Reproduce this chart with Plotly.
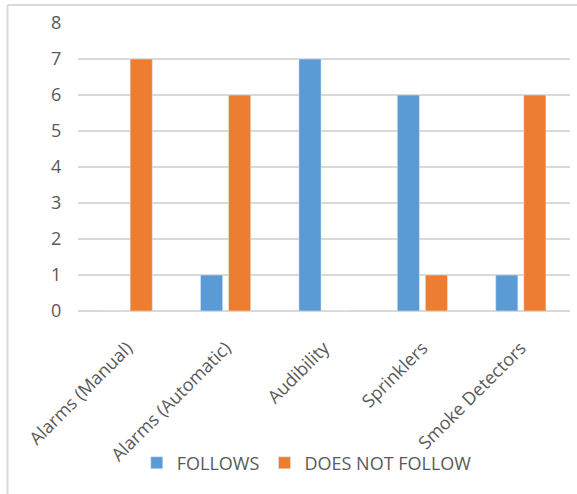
import plotly.graph_objects as go

categories = ["Alarms (Manual)", "Alarms (Automatic)", "Audibility", "Sprinklers", "Smoke Detectors"]
follows = [0, 1, 7, 6, 1]
does_not_follow = [7, 6, 0, 1, 6]
y_ticks = [0, 1, 2, 3, 4, 5, 6, 7, 8]

font_family = "Open Sans, Liberation Sans, sans-serif"
text_grey = "#595959"
grid_grey = "#d9d9d9"

fig = go.Figure()
fig.add_trace(go.Bar(name="FOLLOWS", x=categories, y=follows, marker_color="#5B9BD5"))
fig.add_trace(go.Bar(name="DOES NOT FOLLOW", x=categories, y=does_not_follow, marker_color="#ED7D31"))

fig.update_layout(
    width=577,
    height=494,
    margin=dict(l=78, r=7, t=23, b=183),
    paper_bgcolor="white",
    plot_bgcolor="white",
    barmode="group",
    bargap=0.43,
    bargroupgap=0.21,
    font=dict(family=font_family, size=18, color=text_grey),
    showlegend=True,
    legend=dict(
        orientation="h",
        x=0.465,
        y=-0.528,
        xanchor="center",
        yanchor="middle",
        bgcolor="rgba(0,0,0,0)",
        font=dict(size=18, color=text_grey),
        itemwidth=30,
    ),
    xaxis=dict(
        tickangle=-45,
        showgrid=False,
        showline=False,
        ticks="",
        ticklabelstandoff=22,
        tickfont=dict(size=18, color=text_grey),
    ),
    yaxis=dict(
        range=[0, 8],
        tickvals=y_ticks,
        showgrid=True,
        gridcolor=grid_grey,
        gridwidth=1.5,
        zeroline=True,
        zerolinecolor=grid_grey,
        zerolinewidth=1.5,
        showline=False,
        ticks="outside",
        ticklen=12,
        tickcolor="rgba(0,0,0,0)",
        tickfont=dict(size=18, color=text_grey),
    ),
)

# Chart-area frame: top and left edges
frame_left = -0.1433
frame_top = 1.0625
fig.add_shape(type="line", xref="paper", yref="paper",
              x0=frame_left, x1=1.2, y0=frame_top, y1=frame_top,
              line=dict(color=grid_grey, width=2), layer="below")
fig.add_shape(type="line", xref="paper", yref="paper",
              x0=frame_left, x1=frame_left, y0=frame_top, y1=-1.0,
              line=dict(color=grid_grey, width=2), layer="below")

fig.write_html("out.html")
